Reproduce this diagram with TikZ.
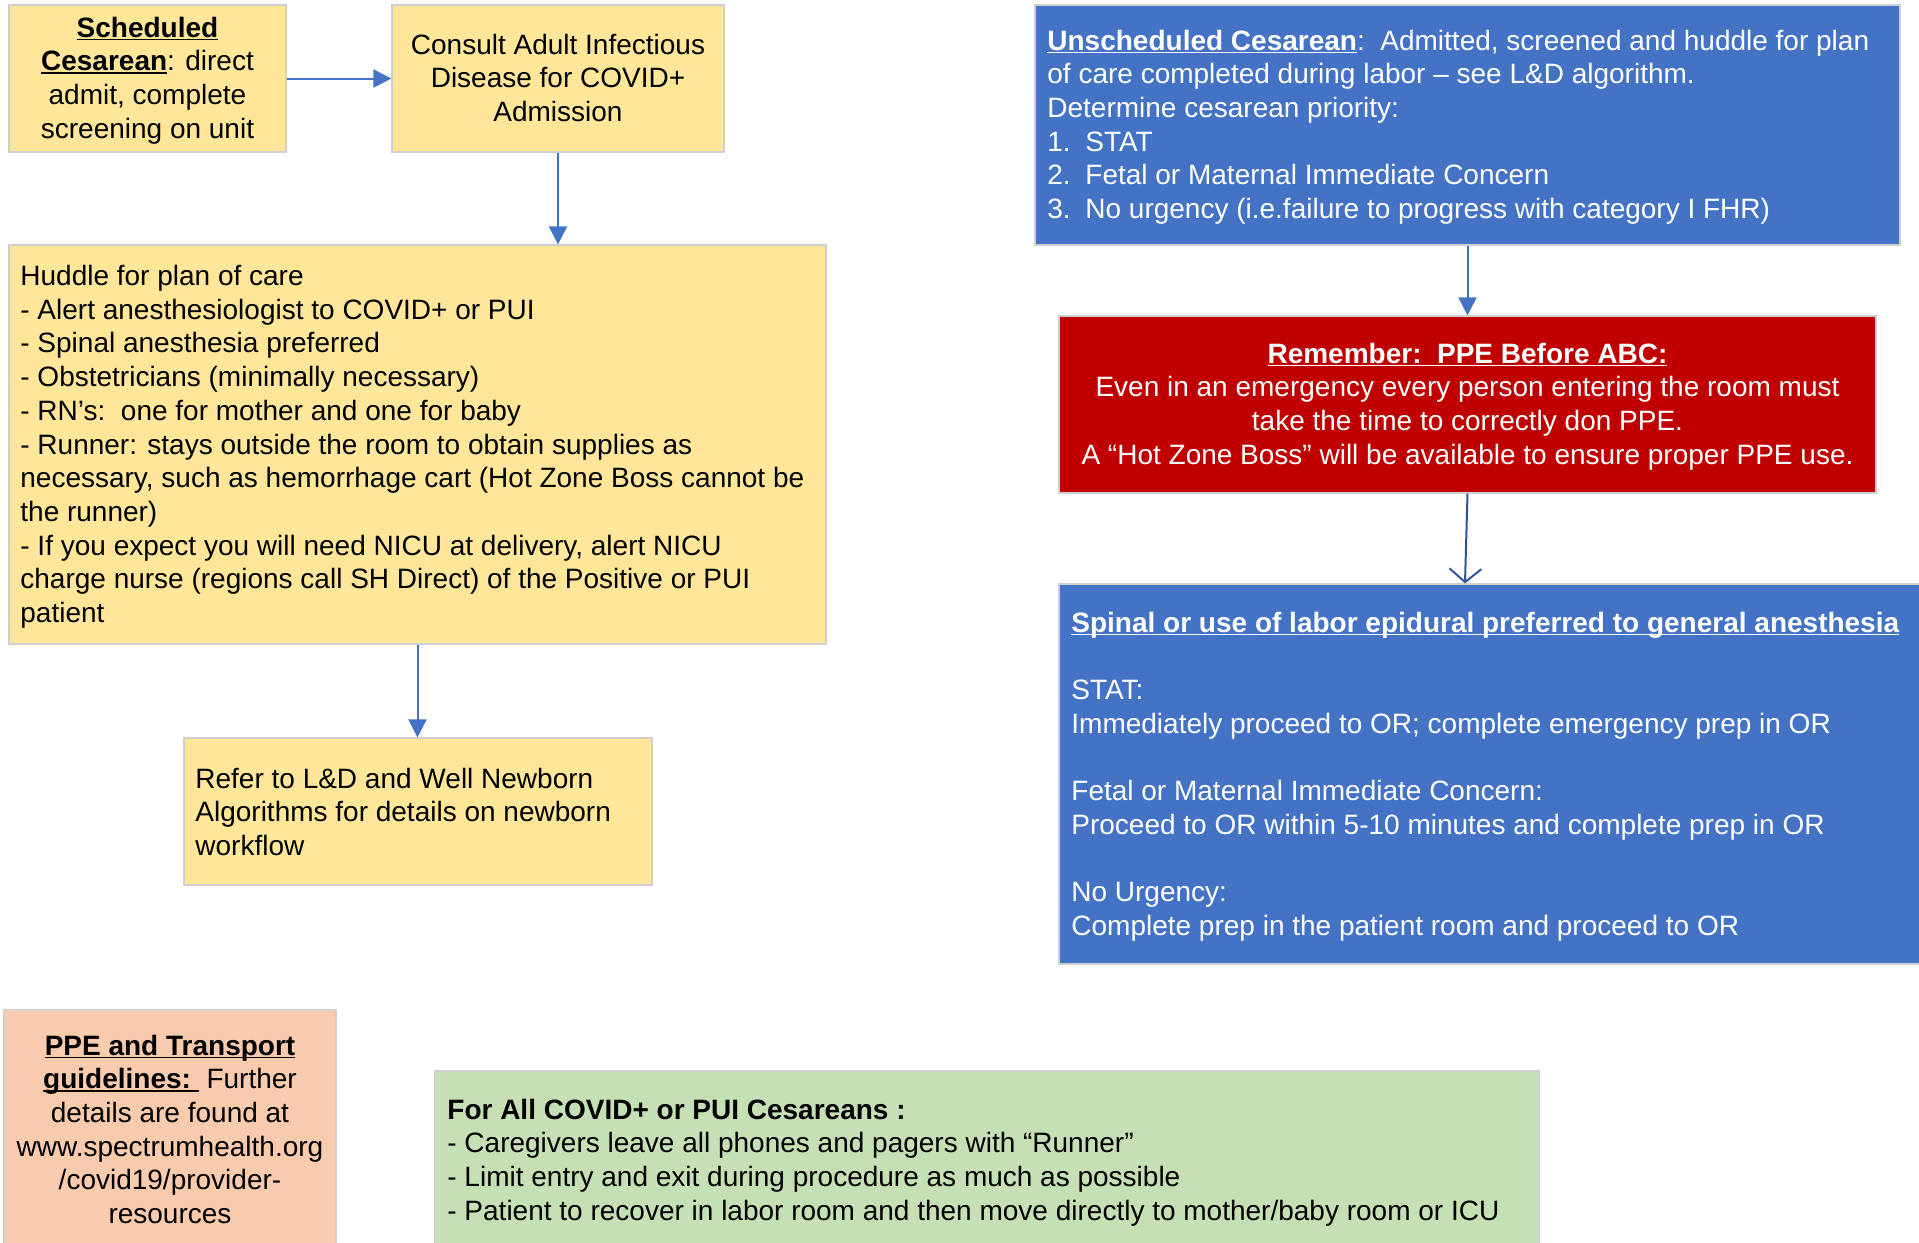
\documentclass[tikz,border=0pt]{standalone}
\usepackage{fontspec}
\setmainfont{Liberation Sans}
\usetikzlibrary{arrows.meta,fit,calc}
\definecolor{yel}{HTML}{FFE699}
\definecolor{blu}{HTML}{4472C4}
\definecolor{redbox}{HTML}{C00000}
\definecolor{peach}{HTML}{F8CBAD}
\definecolor{grn}{HTML}{C5E0B4}
\definecolor{arr}{HTML}{4472C4}
\definecolor{darr}{HTML}{2F5597}
\definecolor{edge}{HTML}{CFCFCF}
\newcommand\myul[1]{\setbox0=\hbox{#1}\rlap{\rule[-1.7pt]{\wd0}{0.9pt}}\box0}
\newcommand\lft[1]{\vtop{\baselineskip=16.85pt\lineskiplimit=-100pt\lineskip=0pt\halign{##\hfil\cr#1\crcr}}}
\newcommand\ctr[1]{\vtop{\baselineskip=16.85pt\lineskiplimit=-100pt\lineskip=0pt\halign{\hfil##\hfil\cr#1\crcr}}}
\newcommand\numb[1]{\makebox[19pt][l]{#1}}
\begin{document}
\begin{tikzpicture}[x=0.5pt,y=-0.5pt,
  boxshape/.style={inner sep=0pt,draw=edge,line width=0.6pt},
  txt/.style={inner sep=0pt,font=\fontsize{14pt}{16.85pt}\selectfont},
  arrowline/.style={draw=arr,line width=1pt,-{Triangle[length=9pt,width=9pt]}},
  openarrow/.style={draw=darr,line width=1pt,-{Straight Barb[length=6.7pt,width=16pt]}}]
\useasboundingbox (0,0) rectangle (1919,1243);
% boxes
\node[boxshape,fill=yel,fit={(9,5) (286,152)}] (sched) {};
\node[boxshape,fill=yel,fit={(392,5) (724,152)}] (consult) {};
\node[boxshape,fill=yel,fit={(9,245) (826,644)}] (huddle) {};
\node[boxshape,fill=yel,fit={(184,738) (652,885)}] (refer) {};
\node[boxshape,fill=peach,fit={(4,1010) (336,1250)}] (ppe) {};
\node[boxshape,fill=grn,fit={(435,1071) (1539,1250)}] (allc) {};
\node[boxshape,fill=blu,fit={(1035,5) (1900,245)}] (unsched) {};
\node[boxshape,fill=redbox,fit={(1059,316) (1876,493)}] (remember) {};
\node[boxshape,fill=blu,fit={(1059,584) (1925,964)}] (spinal) {};
% texts
\node[txt,anchor=base] (tsched) at (147.5,37) {\ctr{\myul{\textbf{Scheduled}}\cr
\myul{\textbf{Cesarean}}: direct\cr
admit, complete\cr
screening on unit}};
\node[txt,anchor=base] (tconsult) at (558,54) {\ctr{Consult Adult Infectious\cr
Disease for COVID+\cr
Admission}};
\node[txt,anchor=base west] (thuddle) at (20,285.5) {\lft{Huddle for plan of care\cr
- Alert anesthesiologist to COVID+ or PUI\cr
- Spinal anesthesia preferred\cr
- Obstetricians (minimally necessary)\cr
- RN’s:\ \ one for mother and one for baby\cr
- Runner: stays outside the room to obtain supplies as\cr
necessary, such as hemorrhage cart (Hot Zone Boss cannot be\cr
the runner)\cr
- If you expect you will need NICU at delivery, alert NICU\cr
charge nurse (regions call SH Direct) of the Positive or PUI\cr
patient}};
\node[txt,anchor=base west] (trefer) at (195,788) {\lft{Refer to L\&D and Well Newborn\cr
Algorithms for details on newborn\cr
workflow}};
\node[txt,anchor=base] (tppe) at (170,1055) {\ctr{\myul{\textbf{PPE and Transport}}\cr
\myul{\textbf{guidelines:\ }}\ Further\cr
details are found at\cr
www.spectrumhealth.org\cr
/covid19/provider-\cr
resources}};
\node[txt,anchor=base west] (tallc) at (447,1119) {\lft{\textbf{For All COVID+ or PUI Cesareans :}\cr
- Caregivers leave all phones and pagers with “Runner”\cr
- Limit entry and exit during procedure as much as possible\cr
- Patient to recover in labor room and then move directly to mother/baby room or ICU}};
\node[txt,anchor=base west,text=white] (tunsched) at (1047,50) {\lft{\myul{\textbf{Unscheduled Cesarean}}:\ \ Admitted, screened and huddle for plan\cr
of care completed during labor – see L\&D algorithm.\cr
Determine cesarean priority:\cr
\numb{1.}STAT\cr
\numb{2.}Fetal or Maternal Immediate Concern\cr
\numb{3.}No urgency (i.e.failure to progress with category I FHR)}};
\node[txt,anchor=base,text=white] (tremember) at (1467.5,363) {\ctr{\myul{\textbf{Remember:\ \ PPE Before ABC:}}\cr
Even in an emergency every person entering the room must\cr
take the time to correctly don PPE.\cr
A “Hot Zone Boss” will be available to ensure proper PPE use.}};
\node[txt,anchor=base west,text=white] (tspinal) at (1071,632) {\lft{\myul{\textbf{Spinal or use of labor epidural preferred to general anesthesia}}\cr
\cr
STAT:\cr
Immediately proceed to OR; complete emergency prep in OR\cr
\cr
Fetal or Maternal Immediate Concern:\cr
Proceed to OR within 5-10 minutes and complete prep in OR\cr
\cr
No Urgency:\cr
Complete prep in the patient room and proceed to OR}};
% connectors
\draw[arrowline] (sched.east) -- (consult.west);
\draw[arrowline] (consult.south) -- (consult.south |- huddle.north);
\draw[arrowline] (huddle.south) -- (huddle.south |- refer.north);
\draw[arrowline] (unsched.south) -- (remember.north);
\coordinate (spinaltip) at ($(remember.south |- spinal.north)+(-2.5,0)$);
\draw[openarrow] (remember.south) -- (spinaltip);
\end{tikzpicture}
\end{document}
